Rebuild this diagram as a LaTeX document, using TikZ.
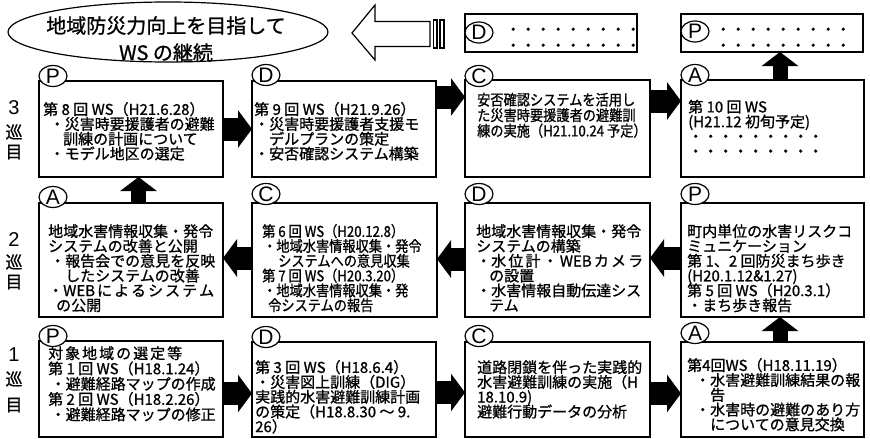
\documentclass[tikz,border=0pt]{standalone}
\usepackage{fontspec}
\setmainfont[FakeBold=1]{Noto Sans CJK JP}
\newfontfamily\cjkc[FakeStretch=0.88,FakeBold=1]{Noto Sans CJK JP}
\newfontfamily\latf{Liberation Sans}
\usetikzlibrary{arrows.meta,shapes.geometric}
\setlength{\lineskiplimit}{-30pt}
\setlength{\lineskip}{0pt}
\newcommand\tightl{\setlength{\lineskiplimit}{-30pt}\setlength{\lineskip}{0pt}}
\newcommand\mystrut{\rule{0pt}{14pt}}
\tikzset{
  box/.style={draw, line width=1.4pt, fill=white, anchor=north west, inner sep=0pt, outer sep=0pt, minimum width=184pt},
  tag/.style={ellipse, draw, fill=white, line width=1.2pt, minimum width=28pt, minimum height=21pt, inner sep=0pt, font=\latf\fontsize{21pt}{21pt}\selectfont},
  txt/.style={anchor=north west, inner sep=0pt, align=left, font=\fontsize{15pt}{14.8pt}\selectfont\tightl},
  txtc/.style={anchor=north west, inner sep=0pt, align=left, font=\cjkc\fontsize{15pt}{14.8pt}\selectfont\tightl},
  fatr/.style={line width=23pt, -{Triangle[length=14pt,width=37pt]}},
  fatu/.style={line width=15pt, -{Triangle[length=14pt,width=36pt]}},
  lbln/.style={inner sep=0pt, font=\latf\fontsize{20pt}{20pt}\selectfont},
  lblj/.style={inner sep=0pt, font=\fontsize{17pt}{17pt}\selectfont},
}
\begin{document}
\begin{tikzpicture}[x=1pt,y=-1pt]
\useasboundingbox (0,0) rectangle (870,439);

% goal ellipse and hollow arrow
\node[draw, ellipse, line width=1.2pt, minimum width=320pt, minimum height=60pt, inner sep=0pt] (goal) at (168,32) {};
\node[inner sep=0pt, align=center, font=\fontsize{20pt}{27pt}\selectfont\tightl] (goaltxt) at (166,39) {地域防災力向上を目指して\\WS の継続};
\draw[line width=1.2pt, fill=white] (352,33) -- (375,5) -- (375,21.5) -- (430,21.5) -- (430,46.5) -- (375,46.5) -- (375,60) -- cycle;
\draw[line width=1.1pt, fill=white] (433.5,20) rectangle (437,48);
\draw[line width=1.1pt, fill=white] (440,20) rectangle (444,48);

% top dotted boxes
\node[box, minimum width=172pt, minimum height=38pt] (dtop) at (465,14) {};
\node[box, minimum width=182pt, minimum height=38pt] (ptop) at (681,14) {};
\node[txt, font=\fontsize{15pt}{16pt}\selectfont\tightl] (dtopt) at (505.5,20.7) {\mystrut ・・・・・・・・・\\・・・・・・・・・};
\node[txt, font=\fontsize{15pt}{16pt}\selectfont\tightl] (ptopt) at (715.5,20.7) {\mystrut ・・・・・・・・・\\・・・・・・・・・};

% row 3
\node[box, minimum height=96pt] (p3) at (39,81) {};
\node[box, minimum height=96pt] (d3) at (252,81) {};
\node[box, minimum width=185pt, minimum height=97pt] (c3) at (465,80) {};
\node[box, minimum width=183pt, minimum height=97pt] (a3) at (681,80) {};
% row 2
\node[box, minimum height=114pt] (a2) at (39,203) {};
\node[box, minimum width=185pt, minimum height=114pt] (c2) at (252,203) {};
\node[box, minimum width=185pt, minimum height=114pt] (d2) at (465,203) {};
\node[box, minimum width=183pt, minimum height=114pt] (p2) at (681,203) {};
% row 1
\node[box, minimum height=96pt] (p1) at (39,341) {};
\node[box, minimum height=95pt] (d1) at (252,342) {};
\node[box, minimum width=185pt, minimum height=95pt] (c1) at (465,342) {};
\node[box, minimum width=183pt, minimum height=95pt] (a1) at (681,342) {};

% tags
\node[tag] (dtopc) at (479,32.5) {D};
\node[tag] (ptopc) at (695,31.5) {P};
\node[tag] (p3c) at ([xshift=14pt,yshift=5pt]p3.north west) {P};
\node[tag] (d3c) at ([xshift=14pt,yshift=6pt]d3.north west) {D};
\node[tag] (c3c) at ([xshift=14pt,yshift=4pt]c3.north west) {C};
\node[tag] (a3c) at ([xshift=14pt,yshift=5pt]a3.north west) {A};
\node[tag] (a2c) at ([xshift=14pt,yshift=6pt]a2.north west) {A};
\node[tag] (c2c) at ([xshift=14pt,yshift=9pt]c2.north west) {C};
\node[tag] (d2c) at ([xshift=14pt,yshift=9pt]d2.north west) {D};
\node[tag] (p2c) at ([xshift=14pt,yshift=9pt]p2.north west) {P};
\node[tag] (p1c) at ([xshift=14pt,yshift=5pt]p1.north west) {P};
\node[tag] (d1c) at ([xshift=14pt,yshift=5pt]d1.north west) {D};
\node[tag] (c1c) at ([xshift=14pt,yshift=6pt]c1.north west) {C};
\node[tag] (a1c) at ([xshift=14pt,yshift=9pt]a1.north west) {A};

% texts row 3
\node[txt] (p3t) at (43,100.7) {\mystrut 第 8 回 WS（H21.6.28）\\
\hspace*{6.5pt}・災害時要援護者の避難\\
\hspace*{20pt}訓練の計画について\\
\hspace*{6.5pt}・モデル地区の選定};
\node[txt] (d3t) at (254,100.7) {\mystrut 第 9 回 WS（H21.9.26）\\
・災害時要援護者支援モ\\
\hspace*{15pt}デルプランの策定\\
・安否確認システム構築};
\node[txtc, font=\cjkc\fontsize{15pt}{15.5pt}\selectfont\tightl] (c3t) at (477,91.2) {\mystrut 安否確認システムを活用し\\
た災害時要援護者の避難訓\\
練の実施（H21.10.24 予定）};
\node[txt] (a3t) at (688,98.2) {\mystrut 第 10 回 WS\\
(H21.12 初旬予定)\\
・・・・・・・・・\\
・・・・・・・・・};

% texts row 2
\node[txt] (a2t) at (48,222.7) {\mystrut 地域水害情報収集・発令\\
システムの改善と公開\\
\hspace*{2pt}・報告会での意見を反映\\
\hspace*{17pt}したシステムの改善\\
\makebox[166pt][s]{・WEB\hfil に\hfil よ\hfil る\hfil シ\hfil ス\hfil テ\hfil ム}\\
\hspace*{8pt}の公開};
\node[txtc] (c2t) at (262,222.7) {\mystrut 第 6 回 WS（H20.12.8）\\
\hspace*{1pt}・地域水害情報収集・発令\\
\hspace*{16pt}システムへの意見収集\\
第 7 回 WS（H20.3.20）\\
\hspace*{1pt}・地域水害情報収集・発\\
\hspace*{6pt}令システムの報告};
\node[txt] (d2t) at (476,222.7) {\mystrut 地域水害情報収集・発令\\
システムの構築\\
\makebox[167pt][s]{・水\hfil 位\hfil 計\hfil ・\hfil WEB\hfil カ\hfil メ\hfil ラ}\\
\hspace*{13pt}の設置\\
・水害情報自動伝達シス\\
\hspace*{13pt}テム};
\node[txt] (p2t) at (687,222.7) {\mystrut 町内単位の水害リスクコ\\
ミュニケーション\\
第 1、2 回防災まち歩き\\
(H20.1.12\&1.27)\\
第 5 回 WS（H20.3.1）\\
・まち歩き報告};

% texts row 1
\node[txt, font=\fontsize{15pt}{15.3pt}\selectfont\tightl] (p1t) at (48,344.7) {\mystrut\makebox[134pt][s]{対\hfil 象\hfil 地\hfil 域\hfil の\hfil 選\hfil 定\hfil 等}\\
第 1 回 WS（H18.1.24）\\
\hspace*{2.5pt}・避難経路マップの作成\\
第 2 回 WS（H18.2.26）\\
\hspace*{2.5pt}・避難経路マップの修正};
\node[txt] (d1t) at (255,358.7) {\mystrut 第 3 回 WS（H18.6.4）\\
・災害図上訓練（DIG）\\
実践的水害避難訓練計画\\
の策定（H18.8.30 ～ 9.\\
26）};
\node[txt] (c1t) at (477,358.7) {\mystrut 道路閉鎖を伴った実践的\\
水害避難訓練の実施（H\\
18.10.9)\\
避難行動データの分析};
\node[txt] (a1t) at (687,356.7) {\mystrut 第4回WS（H18.11.19）\\
\hspace*{8pt}・水害避難訓練結果の報\\
\hspace*{23pt}告\\
\hspace*{8pt}・水害時の避難のあり方\\
\hspace*{23pt}についての意見交換};

% round labels
\node[lbln] (r3a) at (14,108) {3};
\node[lblj] (r3b) at (14,132) {巡};
\node[lblj] (r3c) at (14,152) {目};
\node[lbln] (r2a) at (14,240) {2};
\node[lblj] (r2b) at (14,262) {巡};
\node[lblj] (r2c) at (14,282) {目};
\node[lbln] (r1a) at (14,355) {1};
\node[lblj] (r1b) at (14,379) {巡};
\node[lblj] (r1c) at (14,405) {目};

% fat arrows row 3 (right)
\draw[fatr] (p3.east) -- (p3.east -| d3.west);
\draw[fatr] ([yshift=32pt]d3.east) -- ([yshift=32pt]d3.east -| c3.west);
\draw[fatr] ([yshift=27.5pt]c3.east) -- ([yshift=27.5pt]c3.east -| a3.west);
% row 2 (left)
\draw[fatr] ([yshift=2pt]p2.west) -- ([yshift=2pt]p2.west -| d2.east);
\draw[fatr] ([yshift=1pt]d2.west) -- ([yshift=1pt]d2.west -| c2.east);
\draw[fatr] ([yshift=2pt]c2.west) -- ([yshift=2pt]c2.west -| a2.east);
% row 1 (right)
\draw[fatr] ([yshift=-4.5pt]p1.east) -- ([yshift=-4.5pt]p1.east -| d1.west);
\draw[fatr] ([yshift=-3pt]d1.east) -- ([yshift=-3pt]d1.east -| c1.west);
\draw[fatr] ([yshift=-4pt]c1.east) -- ([yshift=-4pt]c1.east -| a1.west);
% up arrows
\draw[fatu] ([xshift=7.5pt]a3.north) -- ([xshift=7.5pt]a3.north |- ptop.south);
\draw[fatu] ([xshift=7.5pt]a2.north) -- ([xshift=7.5pt]a2.north |- p3.south);
\draw[fatu] ([xshift=7.5pt]a1.north) -- ([xshift=7.5pt]a1.north |- p2.south);
\end{tikzpicture}
\end{document}
